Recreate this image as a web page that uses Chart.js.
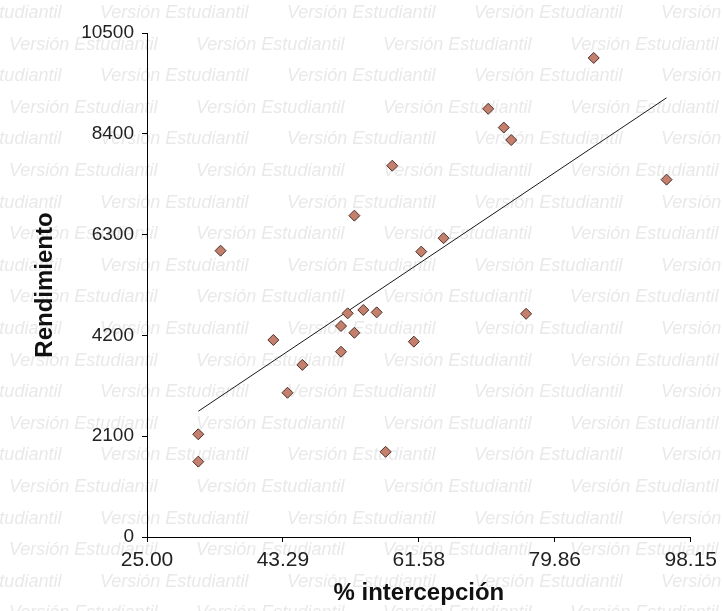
<!DOCTYPE html>
<html>
<head>
<meta charset="utf-8">
<script src="https://cdn.jsdelivr.net/npm/chart.js@4/dist/chart.umd.min.js"></script>
<style>
  body { margin: 0; background: #fff; }
  #wrap { width: 723px; height: 611px; }
</style>
</head>
<body>
<div id="wrap"><canvas id="scatterChart" width="723" height="611"></canvas></div>
<script>
// Data
const interceptacion = [85.1, 70.9, 73.0, 74.0, 58.0, 94.9, 52.9, 34.9, 64.9, 61.9, 54.1, 55.9, 52.0, 76.0, 51.1, 52.9, 42.0, 60.9, 51.1, 45.9, 43.9, 31.9, 31.9, 57.1];
const rendimiento = [9980, 8920, 8530, 8270, 7735, 7445, 6695, 5965, 6225, 5945, 4730, 4680, 4660, 4650, 4395, 4255, 4105, 4070, 3860, 3585, 3005, 2140, 1570, 1775];

// fitted line, ends
const trendX = [31.9, 94.9];
const trendY = [2620, 9150];

const xTicks = [25.00, 43.29, 61.58, 79.86, 98.15];
const xTickLabels = ['25.00', '43.29', '61.58', '79.86', '98.15'];
const yTicks = [0, 2100, 4200, 6300, 8400, 10500];

const FONT = '"Liberation Sans", Arial, sans-serif';

// light "Versión Estudiantil" background text
const watermark = {
    id: 'watermark',
    beforeDraw(chart) {
        const ctx = chart.ctx;
        ctx.save();
        ctx.fillStyle = '#fff';
        ctx.fillRect(0, 0, chart.width, chart.height);
        ctx.font = 'italic 18px ' + FONT;
        ctx.fillStyle = '#e9e9e9';
        ctx.textBaseline = 'middle';
        const period = 187;
        for (let r = 0; r < 20; r++) {
            const y = 13 + r * 31.6;
            const start = (r % 2 === 0) ? 100 - period : 9;
            for (let x = start; x < chart.width; x += period) {
                ctx.fillText('Versión Estudiantil', x, y);
            }
        }
        ctx.restore();
    }
};

const ctx = document.getElementById('scatterChart').getContext('2d');
const scatterChart = new Chart(ctx, {
    type: 'scatter',
    data: {
        datasets: [{
            label: 'Rendimiento',
            data: interceptacion.map((x, i) => ({ x: x, y: rendimiento[i] })),
            pointStyle: 'rectRot',
            pointRadius: 5.5,
            backgroundColor: '#c4806c',
            borderColor: '#4a3028',
            borderWidth: 1
        }, {
            label: 'Ajuste',
            data: trendX.map((x, i) => ({ x: x, y: trendY[i] })),
            showLine: true,
            pointRadius: 0,
            borderColor: '#1a1a1a',
            borderWidth: 1
        }]
    },
    options: {
        responsive: false,
        animation: false,
        layout: {
            padding: { top: 33, right: 30, bottom: 0, left: 0 }
        },
        plugins: {
            legend: { display: false },
            tooltip: { enabled: false }
        },
        scales: {
            x: {
                type: 'linear',
                min: 25,
                max: 98.15,
                afterFit: s => { s.height = 74; },
                afterBuildTicks: s => { s.ticks = xTicks.map(v => ({ value: v })); },
                ticks: {
                    callback: (v, i) => xTickLabels[i],
                    color: '#222',
                    padding: 6,
                    maxRotation: 0,
                    font: { family: FONT, size: 21 }
                },
                grid: { drawOnChartArea: false, color: '#000', tickLength: 5 },
                border: { color: '#000', width: 1 },
                title: {
                    display: true,
                    text: '% intercepción',
                    color: '#111',
                    padding: { top: 0, bottom: 3 },
                    font: { family: FONT, size: 24, weight: 'bold' }
                }
            },
            y: {
                min: 0,
                max: 10500,
                afterFit: s => { s.width = 147; },
                afterBuildTicks: s => { s.ticks = yTicks.map(v => ({ value: v })); },
                ticks: {
                    callback: v => String(v),
                    color: '#222',
                    padding: 8,
                    font: { family: FONT, size: 19 }
                },
                grid: { drawOnChartArea: false, color: '#000', tickLength: 5 },
                border: { color: '#000', width: 1 },
                title: {
                    display: true,
                    text: 'Rendimiento',
                    color: '#111',
                    padding: { top: 31, bottom: 0 },
                    font: { family: FONT, size: 24, weight: 'bold' }
                }
            }
        }
    },
    plugins: [watermark]
});
</script>
</body>
</html>
